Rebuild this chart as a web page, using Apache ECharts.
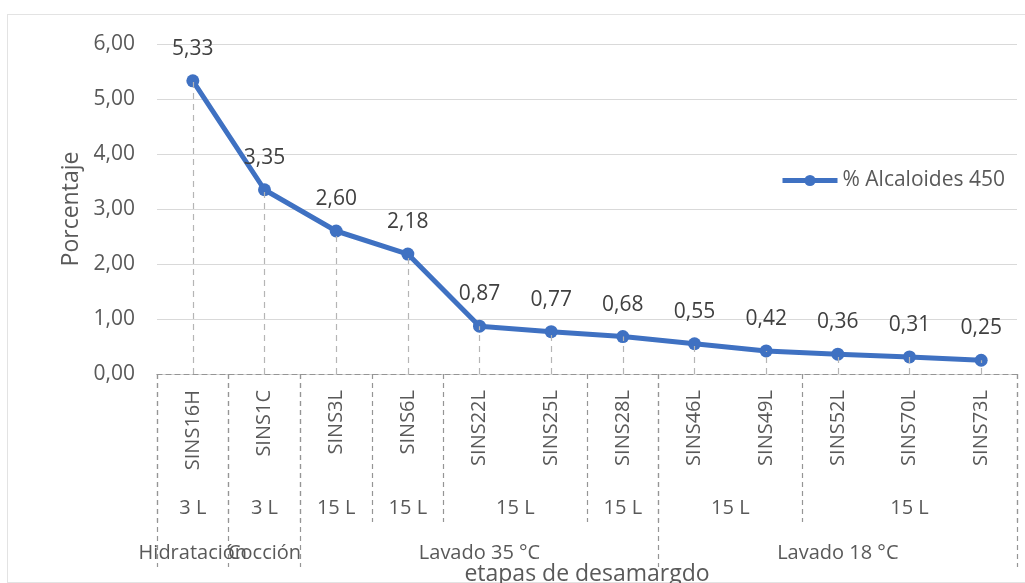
<!DOCTYPE html>
<html>
<head>
<meta charset="utf-8">
<script src="https://cdn.jsdelivr.net/npm/echarts@6/dist/echarts.min.js"></script>
<style>
  html, body { margin: 0; padding: 0; background: #fff; }
  #frame { position: absolute; left: 7px; top: 14px; width: 1040px; height: 567px; border: 1px solid #e3e3e3; }
  #main { position: absolute; left: 0; top: 0; width: 1025px; height: 583px; }
</style>
</head>
<body>
<div id="frame"></div>
<div id="main"></div>
<script>
  // muestras (nivel 1)
  var categories = ['SINS16H','SINS1C','SINS3L','SINS6L','SINS22L','SINS25L','SINS28L','SINS46L','SINS49L','SINS52L','SINS70L','SINS73L'];
  var alcaloides = [5.33, 3.35, 2.60, 2.18, 0.87, 0.77, 0.68, 0.55, 0.42, 0.36, 0.31, 0.25];
  // volumen (nivel 2)
  var volumeLabels = ['3 L','3 L','15 L','15 L','15 L','15 L','15 L','15 L'];
  var volumeSpans  = [1, 1, 1, 1, 2, 1, 2, 3];
  // etapa (nivel 3)
  var stageLabels = ['Hidratación','Cocción','Lavado 35 °C','Lavado 18 °C'];
  var stageSpans  = [1, 1, 5, 5];
  var yTicks = [0, 1, 2, 3, 4, 5, 6];

  var fontFam = 'Open Sans';
  var txtColor = '#595959';

  // eje de medio paso: posiciones -0.5, 0, 0.5 ... 11.5
  function buildLevel(labels, spans) {
    var n = categories.length * 2 + 1;
    var data = [];
    for (var k = 0; k < n; k++) data.push('');
    var bounds = {0: true};
    var s = 0;
    for (var i = 0; i < labels.length; i++) {
      data[2 * s + spans[i]] = labels[i];
      s += spans[i];
      bounds[2 * s] = true;
    }
    // nombres repetidos: agregar espacios invisibles para que sean distintos
    for (var k = 0; k < n; k++) data[k] = data[k] + '\u200b'.repeat(k);
    return { data: data, bounds: bounds };
  }
  var lvl2 = buildLevel(volumeLabels, volumeSpans);
  var lvl3 = buildLevel(stageLabels, stageSpans);

  function fmt(v) { return Number(v).toFixed(2).replace('.', ','); }

  var dropLines = [];
  for (var i = 0; i < categories.length; i++) {
    dropLines.push([{ coord: [categories[i], 0] }, { coord: [categories[i], alcaloides[i]] }]);
  }

  var dashed = { color: '#959595', width: 1.2, type: [5, 4] };

  function levelAxis(lvl, tickLen, margin) {
    return {
      type: 'category',
      position: 'bottom',
      gridIndex: 0,
      boundaryGap: false,
      data: lvl.data,
      axisLine: { show: false },
      axisTick: {
        show: true,
        length: tickLen,
        interval: function (idx) { return !!lvl.bounds[idx]; },
        lineStyle: dashed
      },
      axisLabel: {
        interval: 0,
        margin: margin,
        color: txtColor,
        fontFamily: fontFam,
        fontSize: 20,
        formatter: function (v) { return v.replace(/\u200b/g, ''); }
      },
      splitLine: { show: false }
    };
  }

  var option = {
    animation: false,
    grid: { left: 157, right: 8, top: 44, bottom: 209, outerBoundsMode: 'none' },
    legend: {
      data: ['% Alcaloides 450'],
      left: 775,
      top: 165,
      itemWidth: 55,
      itemHeight: 14,
      lineStyle: { width: 5 },
      textStyle: { color: txtColor, fontFamily: fontFam, fontSize: 21 }
    },
    xAxis: [
      {
        type: 'category',
        data: categories,
        position: 'bottom',
        axisLine: { show: true, lineStyle: dashed },
        axisTick: { show: false },
        axisLabel: {
          interval: 0,
          rotate: 90,
          margin: 16,
          color: txtColor,
          fontFamily: fontFam,
          fontSize: 20
        },
        name: 'etapas de desamargdo',
        nameLocation: 'middle',
        nameGap: 189,
        nameTextStyle: { color: txtColor, fontFamily: fontFam, fontSize: 23 }
      },
      levelAxis(lvl2, 148, 124),
      levelAxis(lvl3, 193, 169)
    ],
    yAxis: {
      type: 'value',
      min: yTicks[0],
      max: yTicks[yTicks.length - 1],
      interval: 1,
      axisLine: { show: false },
      axisTick: { show: false },
      axisLabel: {
        margin: 22,
        color: txtColor,
        fontFamily: fontFam,
        fontSize: 21,
        formatter: fmt
      },
      splitLine: { lineStyle: { color: '#d9d9d9', width: 1 } },
      name: 'Porcentaje',
      nameLocation: 'middle',
      nameGap: 73,
      nameTextStyle: { color: txtColor, fontFamily: fontFam, fontSize: 23 }
    },
    series: [
      {
        name: '% Alcaloides 450',
        type: 'line',
        xAxisIndex: 0,
        data: alcaloides,
        symbol: 'circle',
        symbolSize: 13,
        lineStyle: { color: '#3F71C2', width: 5 },
        itemStyle: { color: '#3F71C2' },
        label: {
          show: true,
          position: 'top',
          distance: 15,
          color: '#404040',
          fontFamily: fontFam,
          fontSize: 21,
          formatter: function (p) { return fmt(p.value); }
        },
        markLine: {
          silent: true,
          symbol: ['none', 'none'],
          label: { show: false },
          lineStyle: { color: '#b5b5b5', width: 1.2, type: [6, 5] },
          data: dropLines
        },
        z: 3
      }
    ]
  };

  var chart = echarts.init(document.getElementById('main'));
  chart.setOption(option);
</script>
</body>
</html>
